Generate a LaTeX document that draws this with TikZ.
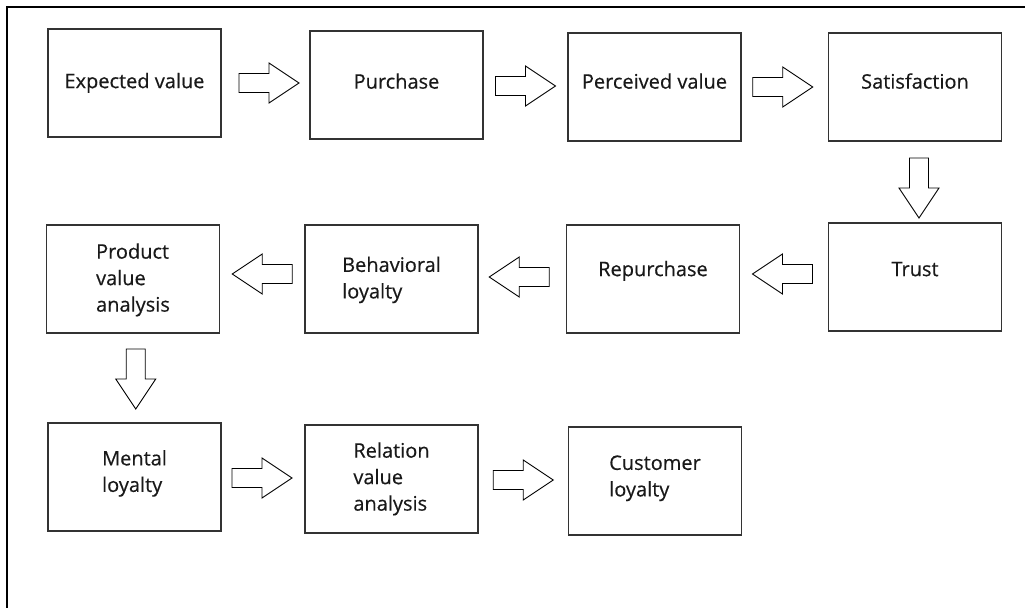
\documentclass[tikz,border=0pt]{standalone}
\usepackage{fontspec}
\newfontfamily\boxfont{Open Sans}[FakeBold=0.4]
\usetikzlibrary{positioning,calc}

% text of a box, moved up by #1
\newcommand\boxtext[2]{\raisebox{#1}[0pt][0pt]{\begin{tabular}{@{}l@{}}#2\end{tabular}}}

\tikzset{
  box/.style={draw=black!80, line width=1.4pt, minimum width=173pt, minimum height=108pt,
    inner sep=0pt, text=black!90, font=\boxfont\fontsize{20}{26.5}\selectfont},
  arrowline/.style={draw=black, line width=0.9pt, line join=miter},
  barrow/.pic={
    \draw[arrowline] (-30,-9.5) -- (0,-9.5) -- (0,-20) -- (30,0) -- (0,20) -- (0,9.5) -- (-30,9.5) -- cycle;
  }
}

\begin{document}
\begin{tikzpicture}[x=1pt, y=-1pt]
        \useasboundingbox (0,0) rectangle (1025,608);

        % Frame
        \draw[line width=2pt] (1025,6.5) -- (6.5,6.5) -- (6.5,608);

        % First row
        \node[box] (ev) at (134.5, 83) {\boxtext{-5pt}{Expected value}};
        \node[box] (pu) at (396.5, 85) {\boxtext{-3.5pt}{Purchase}};
        \node[box] (pv) at (654.5, 87) {\boxtext{-1.5pt}{Perceived value}};
        \node[box] (sa) at (915, 87) {\boxtext{-1.5pt}{Satisfaction}};

        % Second row
        \node[box] (pva) at (133, 279) {\boxtext{-6pt}{Product\\value\\analysis}};
        \node[box] (bl) at (391.5, 279) {\boxtext{-6pt}{Behavioral\\loyalty}};
        \node[box] (re) at (653, 279) {\boxtext{3pt}{Repurchase}};
        \node[box] (tr) at (915, 277) {\boxtext{1pt}{Trust}};

        % Third row
        \node[box] (ml) at (134.5, 477) {\boxtext{-1.5pt}{Mental\\loyalty}};
        \node[box] (rva) at (391.5, 479) {\boxtext{-5pt}{Relation\\value\\analysis}};
        \node[box] (cl) at (655, 481) {\boxtext{-2pt}{Customer\\loyalty}};

        % Block arrows
        \pic[shift={(3.5,-1)}] at ($(ev.east)!0.5!(pu.west)$) {barrow};
        \pic at ($(pu.east)!0.5!(pv.west)$) {barrow};
        \pic[shift={(-2,0)}] at ($(pv.east)!0.5!(sa.west)$) {barrow};
        \pic[shift={(4,6)}, rotate=-90] at ($(sa.south)!0.5!(tr.north)$) {barrow};
        \pic[shift={(-1.5,-4)}, rotate=180] at ($(tr.west)!0.5!(re.east)$) {barrow};
        \pic[shift={(-3,-2)}, rotate=180] at ($(re.west)!0.5!(bl.east)$) {barrow};
        \pic[shift={(0,-5)}, rotate=180] at ($(bl.west)!0.5!(pva.east)$) {barrow};
        \pic[shift={(2,1)}, rotate=-90] at ($(pva.south)!0.5!(ml.north)$) {barrow};
        \pic[shift={(-1,0)}] at ($(ml.east)!0.5!(rva.west)$) {barrow};
        \pic at ($(rva.east)!0.5!(cl.west)$) {barrow};
\end{tikzpicture}
\end{document}
